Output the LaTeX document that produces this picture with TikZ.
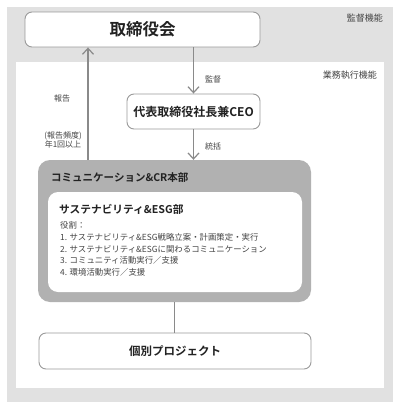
\documentclass[tikz,border=0pt]{standalone}
\usepackage{fontspec}
\setmainfont{Noto Sans CJK JP}[BoldFont={Noto Sans CJK JP Bold}]
\usetikzlibrary{arrows.meta}
\definecolor{bandgray}{HTML}{E1E1E1}
\definecolor{crgray}{HTML}{B1B1B1}
\definecolor{edgegray}{HTML}{9A9A9A}
\definecolor{linegray}{HTML}{8A8A8A}
\definecolor{txt}{HTML}{222222}
\definecolor{lbl}{HTML}{444444}
\tikzset{
  box/.style={draw=edgegray, line width=0.9pt, fill=white, rounded corners=7pt, text=txt, font=\bfseries, inner sep=0pt},
  arr/.style={draw=linegray, line width=1.3pt, -{Straight Barb[length=6pt,width=11pt,line width=1.2pt]}},
  conn/.style={draw=linegray, line width=1.3pt},
  small/.style={font=\fontsize{8}{9.5}\selectfont, text=lbl, inner sep=0pt},
}
\begin{document}
\begin{tikzpicture}[x=1pt,y=-1pt]
\useasboundingbox (0,0) rectangle (400,410);
\fill[bandgray] (7,7) rectangle (393,402);
\fill[white] (16,62) rectangle (384,388);
\node[small, font=\fontsize{9}{10}\selectfont, anchor=east] (lab1) at (383,18) {監督機能};
\node[small, font=\fontsize{9}{10}\selectfont, anchor=east] (lab2) at (377,75) {業務執行機能};

\node[box, minimum width=235pt, minimum height=35pt, font=\fontsize{16.5}{18}\bfseries] (board) at (142.5,29.5) {取締役会};
\node[box, minimum width=133pt, minimum height=35pt, font=\fontsize{12}{14}\bfseries] (ceo) at (193.5,111.5) {代表取締役社長兼CEO};
\node[fill=crgray, rounded corners=12pt, minimum width=273pt, minimum height=142pt, inner sep=0pt] (cr) at (174.5,231) {};
\node[fill=white, rounded corners=10pt, minimum width=254pt, minimum height=100pt, inner sep=0pt] (esg) at (175,242) {};
\node[box, minimum width=272pt, minimum height=36pt, font=\fontsize{11.5}{14}\bfseries] (proj) at (175,351) {個別プロジェクト};

\node[anchor=west, inner sep=0pt, text=txt, font=\fontsize{10.5}{12}\bfseries] (crt) at (51,178) {コミュニケーション\&CR本部};
\node[anchor=west, inner sep=0pt, text=txt, font=\fontsize{10.7}{12}\bfseries] (esgt) at (59,209) {サステナビリティ\&ESG部};
\node[anchor=north west, inner sep=0pt, text=lbl, font=\fontsize{8.4}{11.5}\selectfont, align=left] (roles) at (60,221) {役割：\\[1pt]1. サステナビリティ\&ESG戦略立案・計画策定・実行\\2. サステナビリティ\&ESGに関わるコミュニケーション\\3. コミュニティ活動実行／支援\\4. 環境活動実行／支援};

\coordinate (upx) at (88,0);
\draw[arr] (board.south -| ceo.north) -- (ceo.north);
\draw[arr] (ceo.south) -- (ceo.south |- cr.north);
\draw[arr] (cr.north -| upx) -- (board.south -| upx);
\draw[conn] (cr.south) -- (cr.south |- proj.north);

\node[small] (kansa) at (213,79) {監督};
\node[small] (tokatsu) at (213,146) {統括};
\node[small] (hokoku) at (62,98) {報告};
\node[small, align=center] (freq) at (63,140) {(報告頻度)\\年1回以上};
\end{tikzpicture}
\end{document}
